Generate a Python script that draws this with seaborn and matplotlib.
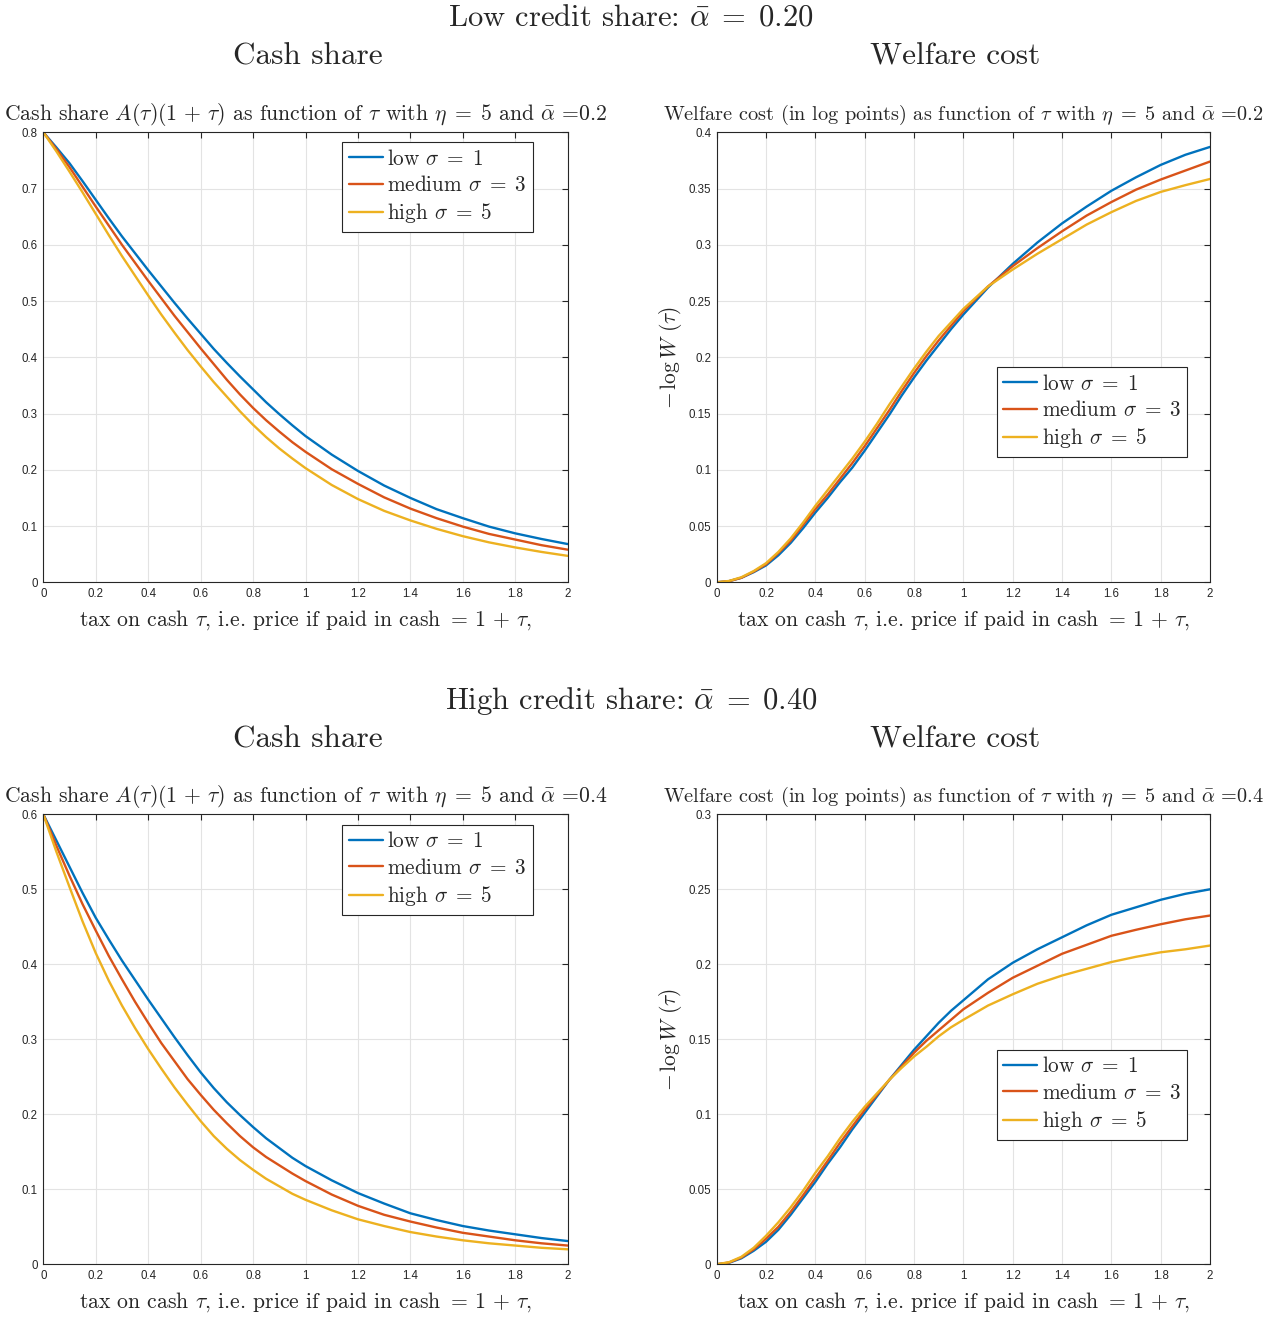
import numpy as np
import pandas as pd
import matplotlib
matplotlib.use("Agg")
import matplotlib.pyplot as plt
from matplotlib.ticker import FuncFormatter, MultipleLocator
import seaborn as sns

# ---------------- data ----------------
tau = [0.00, 0.05, 0.10, 0.15, 0.20, 0.25, 0.30, 0.35, 0.40, 0.45, 0.50,
       0.55, 0.60, 0.65, 0.70, 0.75, 0.80, 0.85, 0.90, 0.95, 1.00,
       1.10, 1.20, 1.30, 1.40, 1.50, 1.60, 1.70, 1.80, 1.90, 2.00]

series_labels = [r"low $\sigma\;=\;1$", r"medium $\sigma\;=\;3$", r"high $\sigma\;=\;5$"]

# alpha_bar = 0.2 : cash share
cash_low_02 = [0.800, 0.773, 0.745, 0.713, 0.680, 0.647, 0.615, 0.585, 0.555, 0.526, 0.497,
               0.469, 0.442, 0.415, 0.390, 0.366, 0.343, 0.320, 0.299, 0.279, 0.260,
               0.227, 0.198, 0.172, 0.150, 0.130, 0.114, 0.099, 0.087, 0.077, 0.068]
cash_med_02 = [0.800, 0.770, 0.738, 0.703, 0.668, 0.634, 0.600, 0.568, 0.536, 0.505, 0.474,
               0.445, 0.416, 0.388, 0.360, 0.334, 0.310, 0.288, 0.268, 0.249, 0.232,
               0.201, 0.175, 0.151, 0.131, 0.114, 0.099, 0.086, 0.076, 0.066, 0.058]
cash_high_02 = [0.800, 0.766, 0.730, 0.693, 0.655, 0.617, 0.580, 0.545, 0.510, 0.476, 0.444,
                0.413, 0.384, 0.356, 0.330, 0.304, 0.280, 0.258, 0.238, 0.220, 0.203,
                0.173, 0.148, 0.127, 0.110, 0.095, 0.082, 0.071, 0.062, 0.054, 0.047]

# alpha_bar = 0.2 : welfare cost
wel_low_02 = [0.000, 0.001, 0.004, 0.009, 0.015, 0.024, 0.035, 0.048, 0.062, 0.075, 0.089,
              0.102, 0.117, 0.133, 0.149, 0.166, 0.182, 0.197, 0.211, 0.225, 0.238,
              0.262, 0.283, 0.302, 0.319, 0.334, 0.348, 0.360, 0.371, 0.380, 0.387]
wel_med_02 = [0.000, 0.001, 0.004, 0.0095, 0.016, 0.026, 0.037, 0.051, 0.065, 0.078, 0.092,
              0.106, 0.121, 0.137, 0.153, 0.170, 0.186, 0.201, 0.215, 0.228, 0.241,
              0.263, 0.281, 0.297, 0.312, 0.326, 0.338, 0.349, 0.358, 0.366, 0.374]
wel_high_02 = [0.000, 0.0012, 0.0045, 0.010, 0.017, 0.027, 0.039, 0.053, 0.068, 0.082, 0.096,
               0.110, 0.125, 0.141, 0.158, 0.174, 0.190, 0.205, 0.219, 0.231, 0.243,
               0.263, 0.278, 0.292, 0.305, 0.318, 0.329, 0.339, 0.347, 0.353, 0.3585]

# alpha_bar = 0.4 : cash share
cash_low_04 = [0.600, 0.565, 0.530, 0.495, 0.462, 0.433, 0.405, 0.379, 0.353, 0.328, 0.303,
               0.279, 0.256, 0.235, 0.216, 0.199, 0.183, 0.168, 0.155, 0.142, 0.131,
               0.112, 0.095, 0.081, 0.068, 0.059, 0.051, 0.045, 0.040, 0.035, 0.031]
cash_med_04 = [0.600, 0.558, 0.518, 0.480, 0.445, 0.411, 0.380, 0.350, 0.322, 0.295, 0.271,
               0.247, 0.226, 0.206, 0.188, 0.171, 0.156, 0.143, 0.132, 0.121, 0.111,
               0.093, 0.078, 0.066, 0.057, 0.049, 0.042, 0.037, 0.032, 0.028, 0.025]
cash_high_04 = [0.600, 0.550, 0.503, 0.457, 0.415, 0.378, 0.345, 0.315, 0.287, 0.261, 0.236,
                0.213, 0.191, 0.171, 0.154, 0.139, 0.126, 0.114, 0.104, 0.094, 0.086,
                0.072, 0.060, 0.051, 0.043, 0.037, 0.032, 0.028, 0.025, 0.022, 0.020]

# alpha_bar = 0.4 : welfare cost
wel_low_04 = [0.000, 0.001, 0.004, 0.009, 0.015, 0.023, 0.033, 0.044, 0.055, 0.067, 0.078,
              0.090, 0.101, 0.112, 0.123, 0.133, 0.143, 0.152, 0.161, 0.169, 0.176,
              0.190, 0.201, 0.210, 0.218, 0.226, 0.233, 0.238, 0.243, 0.247, 0.250]
wel_med_04 = [0.000, 0.0012, 0.0045, 0.010, 0.017, 0.025, 0.035, 0.046, 0.0575, 0.069, 0.081,
              0.092, 0.103, 0.113, 0.123, 0.132, 0.141, 0.149, 0.156, 0.163, 0.170,
              0.181, 0.191, 0.199, 0.207, 0.213, 0.219, 0.223, 0.2267, 0.230, 0.2325]
wel_high_04 = [0.000, 0.0014, 0.005, 0.011, 0.019, 0.028, 0.038, 0.049, 0.061, 0.072, 0.084,
               0.095, 0.105, 0.114, 0.123, 0.131, 0.1385, 0.145, 0.152, 0.158, 0.163,
               0.1725, 0.180, 0.187, 0.1925, 0.197, 0.2015, 0.205, 0.208, 0.210, 0.2125]

# ---------------- styling ----------------
sns.set_style("white")
plt.rcParams["font.family"] = ["serif"]
plt.rcParams["font.serif"] = ["cmr10", "DejaVu Serif"]
plt.rcParams["mathtext.fontset"] = "cm"
plt.rcParams["axes.unicode_minus"] = False
plt.rcParams["axes.formatter.use_mathtext"] = True

colors = ["#0072BD", "#D95319", "#EDB120"]
tick_font = "Liberation Sans"
W, H = 1281, 1318
fig = plt.figure(figsize=(W / 100, H / 100), dpi=100)


def px_axes(left, top, right, bottom):
    return fig.add_axes([left / W, 1 - bottom / H, (right - left) / W, (bottom - top) / H])


def fmt(v, pos):
    return "%g" % round(v, 4)


def draw(ax, data_list, ymax, ystep, title, title_size, legend_anchor, ylabel=None):
    frames = []
    for lab, vals in zip(series_labels, data_list):
        frames.append(pd.DataFrame({"tau": tau, "value": vals, "series": lab}))
    df = pd.concat(frames, ignore_index=True)
    sns.lineplot(data=df, x="tau", y="value", hue="series", palette=colors,
                 hue_order=series_labels, linewidth=1.7, ax=ax, legend=False,
                 errorbar=None, sort=False)
    ax.set_xlim(0, 2)
    ax.set_ylim(0, ymax)
    ax.xaxis.set_major_locator(MultipleLocator(0.2))
    ax.yaxis.set_major_locator(MultipleLocator(ystep))
    ax.xaxis.set_major_formatter(FuncFormatter(fmt))
    ax.yaxis.set_major_formatter(FuncFormatter(fmt))
    ax.grid(True, color="#e3e3e3", linewidth=0.8)
    ax.set_axisbelow(True)
    ax.tick_params(direction="in", length=4, width=0.8, top=True, right=True,
                   labelsize=8.3, colors="#262626", pad=4)
    for lbl in ax.get_xticklabels() + ax.get_yticklabels():
        lbl.set_fontfamily(tick_font)
    for sp in ax.spines.values():
        sp.set_color("#262626")
        sp.set_linewidth(0.8)
        sp.set_visible(True)
    ax.set_title(title, fontsize=title_size, pad=9)
    ax.set_xlabel(r"tax on cash $\tau$, i.e. price if paid in cash $=\,1\,+\,\tau$,",
                  fontsize=15.6, labelpad=6)
    if ylabel:
        ax.set_ylabel(ylabel, fontsize=15.5, labelpad=3)
    else:
        ax.set_ylabel("")
    handles = [plt.Line2D([], [], color=c, linewidth=1.7) for c in colors]
    leg = ax.legend(handles, series_labels, loc="upper left", bbox_to_anchor=legend_anchor,
                    fontsize=15.3, frameon=True, fancybox=False, framealpha=1,
                    handlelength=1.6, handletextpad=0.2, borderpad=0.3,
                    labelspacing=0.3, borderaxespad=0)
    leg.get_frame().set_edgecolor("#262626")
    leg.get_frame().set_linewidth(0.8)


ax1 = px_axes(43.3, 132.3, 567.7, 582.3)
ax2 = px_axes(716.7, 132.3, 1210, 582.3)
ax3 = px_axes(43.3, 814.3, 567.7, 1264.3)
ax4 = px_axes(716.7, 814.3, 1210, 1264.3)

t_cash = r"Cash share $A(\tau)(1\,+\,\tau)$ as function of $\tau$ with $\eta\;=\;5$ and $\bar{\alpha}$ =%s"
t_wel = r"Welfare cost (in log points) as function of $\tau$ with $\eta\;=\;5$ and $\bar{\alpha}$ =%s"
ylab = r"$-\,\log W\ (\tau)$"

draw(ax1, [cash_low_02, cash_med_02, cash_high_02], 0.8, 0.1, t_cash % "0.2", 15.6,
     (0.57, 0.978))
draw(ax2, [wel_low_02, wel_med_02, wel_high_02], 0.4, 0.05, t_wel % "0.2", 14.6,
     (0.568, 0.478), ylabel=ylab)
draw(ax3, [cash_low_04, cash_med_04, cash_high_04], 0.6, 0.1, t_cash % "0.4", 15.6,
     (0.57, 0.976))
draw(ax4, [wel_low_04, wel_med_04, wel_high_04], 0.3, 0.05, t_wel % "0.4", 14.6,
     (0.568, 0.476), ylabel=ylab)

fig.text(631 / W, 1 - 18 / H, r"Low credit share: $\bar{\alpha}\;=\;0.20$", fontsize=22,
         ha="center", va="center")
fig.text(308 / W, 1 - 57 / H, "Cash share", fontsize=22.5, ha="center", va="center")
fig.text(955 / W, 1 - 57 / H, "Welfare cost", fontsize=22.5, ha="center", va="center")
fig.text(631 / W, 1 - 701 / H, r"High credit share: $\bar{\alpha}\;=\;0.40$", fontsize=22,
         ha="center", va="center")
fig.text(308 / W, 1 - 740 / H, "Cash share", fontsize=22.5, ha="center", va="center")
fig.text(955 / W, 1 - 740 / H, "Welfare cost", fontsize=22.5, ha="center", va="center")

fig.savefig("out.png", dpi=100)
